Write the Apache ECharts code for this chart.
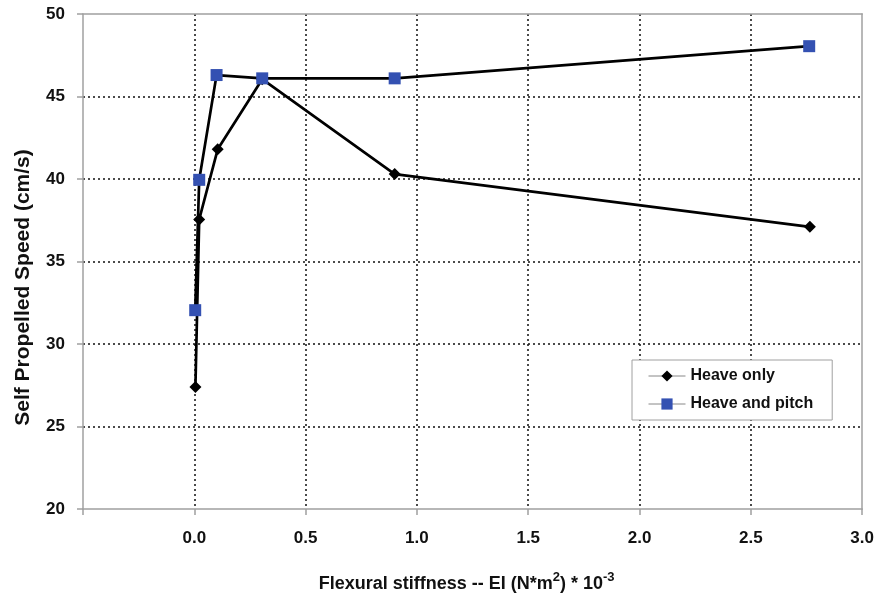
<!DOCTYPE html>
<html>
<head>
<meta charset="utf-8">
<script src="https://cdn.jsdelivr.net/npm/echarts@6/dist/echarts.min.js"></script>
<style>html,body{margin:0;padding:0;background:#fff}#c{width:877px;height:599px}</style>
</head>
<body>
<div id="c"></div>
<script>
var seriesNames = ['Heave only', 'Heave and pitch'];
var heaveOnlyX = [0.005, 0.022, 0.105, 0.305, 0.90, 2.765];
var heaveOnlyY = [27.4, 37.55, 41.8, 46.05, 40.3, 37.1];
var heavePitchX = [0.004, 0.022, 0.10, 0.305, 0.90, 2.762];
var heavePitchY = [32.05, 39.95, 46.3, 46.1, 46.1, 48.05];
var xTicks = {min: -0.5, max: 3.0, interval: 0.5};
var yTicks = {min: 20, max: 50, interval: 5};

function pairs(xs, ys) { return xs.map(function (x, i) { return [x, ys[i]]; }); }

var FONT = '"Liberation Sans", Arial, sans-serif';
var chart = echarts.init(document.getElementById('c'), null, {renderer: 'canvas'});
var borderAxis = {
  axisLine: {show: true, onZero: false, lineStyle: {color: '#a0a0a0', width: 1.5}},
  axisTick: {show: false}, axisLabel: {show: false}, splitLine: {show: false}, z: 3
};
var gridLine = {show: true, showMinLine: false, showMaxLine: false,
  lineStyle: {color: '#111', width: 1.5, type: [2, 3]}};
chart.setOption({
  animation: false,
  backgroundColor: '#ffffff',
  grid: {left: 83, right: 12, top: 14, bottom: 86, containLabel: false},
  legend: {
    left: 632, top: 360, orient: 'vertical',
    padding: [8, 19, 8, 16], itemGap: 12, itemWidth: 37, itemHeight: 14,
    borderColor: '#a0a0a0', borderWidth: 1, backgroundColor: '#fff',
    lineStyle: {color: '#888', width: 1},
    textStyle: {fontFamily: FONT, fontWeight: 'bold', fontSize: 16, color: '#111'},
    data: seriesNames
  },
  xAxis: [
    {
      type: 'value', position: 'bottom',
      min: xTicks.min, max: xTicks.max, interval: xTicks.interval, z: 1,
      axisLine: {show: false, onZero: false},
      axisTick: {show: true, length: 6, lineStyle: {color: '#a0a0a0', width: 1.5}},
      axisLabel: {margin: 21, fontFamily: FONT, fontWeight: 'bold', fontSize: 17, color: '#111',
        formatter: function (v) { return v < 0 ? '' : v.toFixed(1); }},
      splitLine: gridLine,
      name: '{a|Flexural stiffness -- EI (N*m}{s|2}{a|) * 10}{s|-3}',
      nameLocation: 'middle', nameGap: 62,
      nameTextStyle: {padding: [0, 12, 0, 0], rich: {
        a: {fontFamily: FONT, fontWeight: 'bold', fontSize: 18, color: '#111', verticalAlign: 'bottom', lineHeight: 22},
        s: {fontFamily: FONT, fontWeight: 'bold', fontSize: 13, color: '#111', verticalAlign: 'top', padding: [0, 0, 10, 0], lineHeight: 22}
      }}
    },
    Object.assign({type: 'value', position: 'bottom', min: xTicks.min, max: xTicks.max, interval: xTicks.interval}, borderAxis),
    Object.assign({type: 'value', position: 'top', min: xTicks.min, max: xTicks.max, interval: xTicks.interval}, borderAxis)
  ],
  yAxis: [
    {
      type: 'value', position: 'left', min: yTicks.min, max: yTicks.max, interval: yTicks.interval, z: 1,
      axisLine: {show: false, onZero: false},
      axisTick: {show: true, length: 6, lineStyle: {color: '#a0a0a0', width: 1.5}},
      axisLabel: {margin: 18, fontFamily: FONT, fontWeight: 'bold', fontSize: 17, color: '#111'},
      splitLine: gridLine,
      name: 'Self Propelled Speed (cm/s)', nameLocation: 'middle', nameGap: 49,
      nameTextStyle: {fontFamily: FONT, fontWeight: 'bold', fontSize: 21, color: '#111', padding: [0, 52, 0, 0]}
    },
    Object.assign({type: 'value', position: 'left', min: yTicks.min, max: yTicks.max, interval: yTicks.interval}, borderAxis),
    Object.assign({type: 'value', position: 'right', min: yTicks.min, max: yTicks.max, interval: yTicks.interval}, borderAxis)
  ],
  series: [
    {
      name: seriesNames[0], type: 'line', xAxisIndex: 0, yAxisIndex: 0,
      data: pairs(heaveOnlyX, heaveOnlyY),
      symbol: 'diamond', symbolSize: 12, z: 4,
      lineStyle: {color: '#000', width: 2.7},
      itemStyle: {color: '#000', borderWidth: 0}
    },
    {
      name: seriesNames[1], type: 'line', xAxisIndex: 0, yAxisIndex: 0,
      data: pairs(heavePitchX, heavePitchY),
      symbol: 'rect', symbolSize: 12, z: 5,
      lineStyle: {color: '#000', width: 2.7},
      itemStyle: {color: '#3451b2', borderWidth: 0}
    }
  ]
});
</script>
</body>
</html>
